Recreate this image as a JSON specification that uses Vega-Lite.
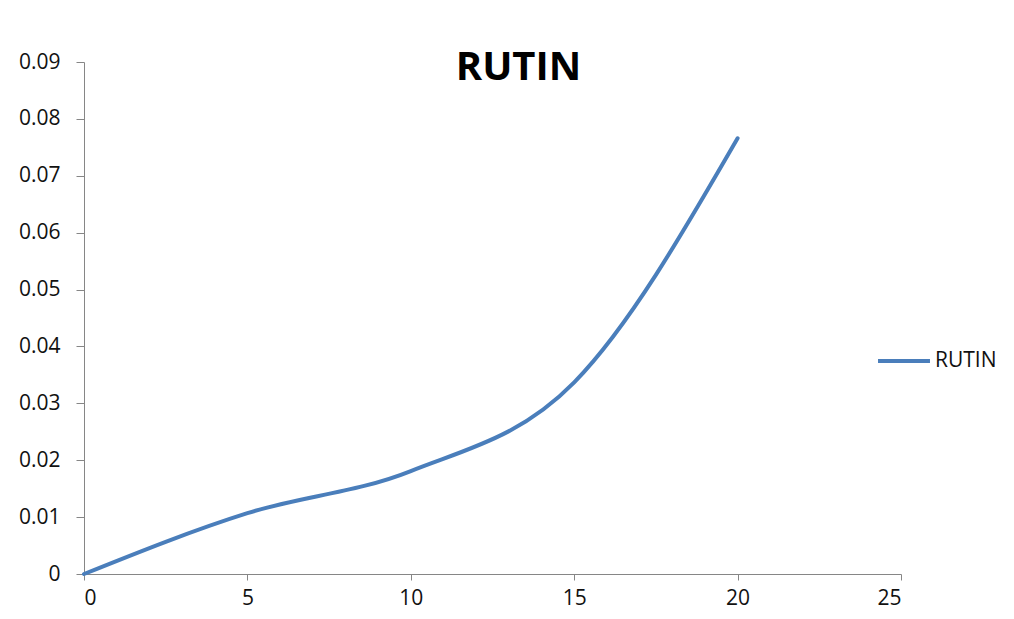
{
  "$schema": "https://vega.github.io/schema/vega-lite/v6.json",
  "width": 817,
  "height": 512,
  "autosize": {"type": "none"},
  "padding": {"left": 84, "top": 62, "right": 113, "bottom": 45},
  "background": "white",
  "title": {
    "text": "RUTIN",
    "font": "Open Sans",
    "fontSize": 40,
    "fontWeight": "bold",
    "color": "black",
    "anchor": "middle",
    "frame": "group",
    "baseline": "top",
    "offset": -37,
    "dx": 26
  },
  "data": {
    "values": [
      {"t": 0, "v": 0, "s": "RUTIN"},
      {"t": 5, "v": 0.0107, "s": "RUTIN"},
      {"t": 10, "v": 0.0181, "s": "RUTIN"},
      {"t": 15, "v": 0.0337, "s": "RUTIN"},
      {"t": 20, "v": 0.0766, "s": "RUTIN"}
    ]
  },
  "mark": {"type": "line", "interpolate": "monotone", "strokeWidth": 4, "strokeCap": "round"},
  "encoding": {
    "x": {
      "field": "t", "type": "quantitative",
      "scale": {"domain": [0, 25], "nice": false},
      "axis": {"values": [0, 5, 10, 15, 20, 25], "title": null, "grid": false,
        "domainColor": "#868686", "tickColor": "#868686", "tickSize": 6,
        "labelFont": "Open Sans", "labelFontSize": 21, "labelColor": "#111", "labelPadding": 7}
    },
    "y": {
      "field": "v", "type": "quantitative",
      "scale": {"domain": [0, 0.09], "nice": false},
      "axis": {"values": [0, 0.01, 0.02, 0.03, 0.04, 0.05, 0.06, 0.07, 0.08, 0.09], "format": "~g", "title": null, "grid": false,
        "domainColor": "#868686", "tickColor": "#868686", "tickSize": 8,
        "labelFont": "Open Sans", "labelFontSize": 21, "labelColor": "#111", "labelPadding": 16}
    },
    "color": {
      "field": "s", "type": "nominal",
      "scale": {"range": ["#4a7ebb"]},
      "legend": {"title": null, "orient": "none", "legendX": 792, "legendY": 271,
        "symbolType": "stroke", "symbolStrokeWidth": 4, "symbolSize": 2700,
        "labelFont": "Open Sans", "labelFontSize": 21, "labelColor": "#111", "labelOffset": 3}
    }
  },
  "config": {"view": {"stroke": null}}
}
